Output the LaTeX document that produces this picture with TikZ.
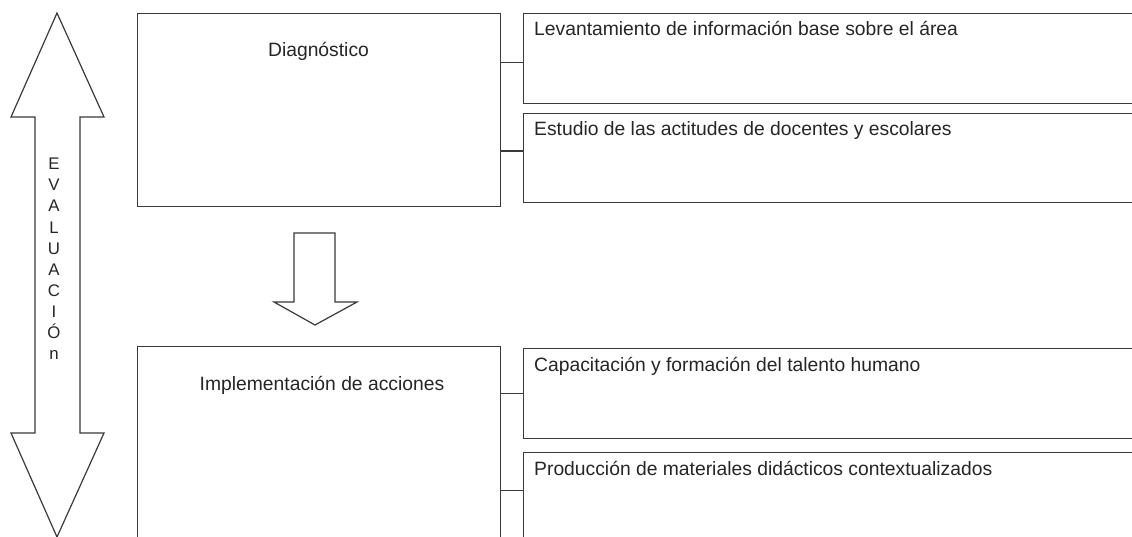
\documentclass[tikz,border=0pt]{standalone}
\usepackage{fontspec}
\setmainfont{Liberation Sans}
\definecolor{linecol}{HTML}{3A3A3A}
\definecolor{txtcol}{HTML}{262626}
\begin{document}
\begin{tikzpicture}[x=1pt,y=-1pt,
  boxstyle/.style={draw=linecol,line width=1.2pt,rectangle,inner sep=0pt,anchor=north west},
  txt/.style={text=txtcol,font=\fontsize{19.3}{23}\selectfont,inner sep=0pt},
  conn/.style={draw=linecol,line width=1.2pt},
  bigarrow/.style={draw=linecol,line width=1.2pt,fill=white,line join=miter}]
\useasboundingbox (0,0) rectangle (1132,537);
\fill[white] (0,0) rectangle (1132,537);
% double arrow
\draw[bigarrow] (57,13) -- (104,117) -- (80,117) -- (80,433) -- (104,433) -- (57,537)
  -- (11,433) -- (35,433) -- (35,117) -- (11,117) -- cycle;
\node[text=txtcol,font=\fontsize{16.8}{21.1}\selectfont,align=center,inner sep=0pt,anchor=north]
  (eval) at (54,158) {E\\V\\A\\L\\U\\A\\C\\I\\Ó\\n};
% down arrow
\draw[bigarrow] (294,233) -- (335,233) -- (335,302) -- (357,302) -- (315,325) -- (274,302) -- (294,302) -- cycle;
% main boxes
\node[boxstyle,minimum width=363pt,minimum height=193pt] (diag) at (137,13) {};
\node[txt,anchor=base] (diagt) at (318.5,57) {Diagnóstico};
\node[boxstyle,minimum width=363pt,minimum height=200pt] (impl) at (137,346) {};
\node[txt,anchor=base] (implt) at (322,390) {Implementación de acciones};
% right boxes
\node[boxstyle,minimum width=620pt,minimum height=90pt] (r1) at (523,13) {};
\node[boxstyle,minimum width=620pt,minimum height=89pt] (r2) at (523,113) {};
\node[boxstyle,minimum width=620pt,minimum height=90pt] (r3) at (523,348) {};
\node[boxstyle,minimum width=620pt,minimum height=90pt] (r4) at (523,452) {};
\node[txt,anchor=base west] (t1) at (534,36) {Levantamiento de información base sobre el área};
\node[txt,anchor=base west] (t2) at (534,136) {Estudio de las actitudes de docentes y escolares};
\node[txt,anchor=base west] (t3) at (534,371) {Capacitación y formación del talento humano};
\node[txt,anchor=base west] (t4) at (534,475) {Producción de materiales didácticos contextualizados};
% connectors
\draw[conn] ([yshift=-4pt]diag.east |- r1.west) -- ([yshift=-4pt]r1.west);
\draw[conn] ([yshift=7pt]diag.east |- r2.west) -- ([yshift=7pt]r2.west);
\draw[conn] (impl.east |- r3.west) -- (r3.west);
\draw[conn] ([yshift=7pt]impl.east |- r4.west) -- ([yshift=7pt]r4.west);
\end{tikzpicture}
\end{document}
